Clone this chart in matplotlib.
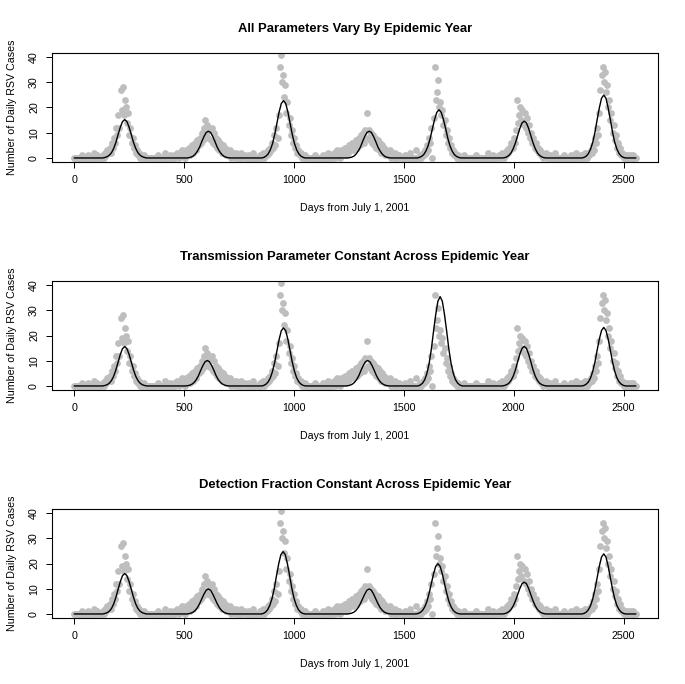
import numpy as np
import matplotlib
matplotlib.use("Agg")
from matplotlib import pyplot as plt

plt.rcParams['font.family'] = ['Liberation Sans', 'DejaVu Sans']

# observed daily counts (same in all three panels), one list per epidemic season,
# read every 5 days starting at obs_start
obs_step = 5
obs_start = [125, 455, 840, 1170, 1570, 1930, 2300]
obs_season = [
    [0, 1, 0, 2, 1, 3, 2, 4, 2, 6, 4, 8, 6, 12, 9, 17, 12, 27, 19, 28,
     17, 23, 20, 14, 18, 9, 12, 6, 8, 4, 5, 2, 3, 1, 2, 0, 1, 0, 1, 0, 0],
    [1, 0, 2, 1, 0, 2, 1, 3, 1, 2, 0, 3, 2, 4, 1, 3, 5, 2, 4, 6,
     3, 7, 5, 8, 6, 10, 7, 12, 15, 9, 13, 8, 11, 7, 12, 6, 10, 5, 8, 4,
     7, 3, 6, 2, 5, 3, 4, 1, 3, 2, 1, 3, 0, 2, 1, 0, 2, 1, 0, 1, 0, 2, 0, 1, 0],
    [0, 1, 0, 1, 2, 0, 2, 1, 3, 2, 4, 3, 6, 4, 9, 5, 12, 8, 17, 36,
     41, 30, 33, 24, 29, 18, 22, 13, 16, 9, 11, 6, 8, 4, 5, 2, 3, 1, 2, 0,
     1, 0, 1, 0, 0],
    [1, 0, 2, 0, 1, 3, 1, 2, 0, 3, 1, 2, 4, 1, 3, 2, 5, 3, 4, 6,
     3, 5, 7, 4, 6, 8, 5, 9, 7, 10, 6, 11, 18, 8, 11, 7, 10, 6, 9, 5,
     8, 4, 7, 3, 6, 2, 5, 3, 4, 1, 3, 2, 1, 3, 0, 2, 1, 0, 2, 0, 1, 0, 1, 0, 0],
    [0, 1, 0, 2, 1, 3, 2, 5, 3, 8, 6, 12, 0, 16, 36, 23, 26, 31, 20, 22,
     17, 19, 13, 15, 9, 11, 6, 8, 4, 5, 2, 3, 1, 2, 0, 1, 0],
    [0, 1, 0, 2, 1, 0, 2, 1, 3, 2, 4, 3, 6, 4, 8, 6, 11, 23, 14, 17,
     20, 15, 19, 13, 18, 12, 16, 10, 13, 8, 10, 6, 8, 4, 6, 3, 4, 2, 3, 1,
     2, 0, 1, 2, 0, 1, 0, 1, 0],
    [0, 1, 0, 1, 0, 2, 1, 0, 2, 1, 3, 2, 5, 3, 8, 6, 12, 9, 18, 27,
     33, 36, 30, 34, 26, 29, 20, 23, 15, 18, 10, 13, 7, 9, 4, 6, 2, 4, 1, 2,
     0, 1, 0, 1, 0, 0, 1],
]
# scattered small counts between seasons (all other days read as 0)
offseason_days = [35, 62, 88, 104, 380, 412, 436, 790, 812, 1095, 1130, 1156,
                  1505, 1530, 1556, 1775, 1830, 1885, 1905, 2190, 2230, 2262, 2285, 2545]
offseason_counts = [1, 1, 2, 1, 1, 2, 1, 1, 2, 1, 1, 2,
                    1, 2, 3, 1, 1, 2, 1, 2, 1, 1, 2, 1]
last_day = 2555

# model fits: values every 10 days from peak-90 to peak+90, zero elsewhere
model_offsets = np.arange(-90, 91, 10)
titles = ["All Parameters Vary By Epidemic Year",
          "Transmission Parameter Constant Across Epidemic Year",
          "Detection Fraction Constant Across Epidemic Year"]
peak_days = [
    [229, 610, 952, 1342, 1660, 2048, 2410],
    [229, 605, 952, 1335, 1665, 2048, 2410],
    [229, 610, 950, 1342, 1655, 2048, 2410],
]
model_vals = [
    [
        [0.2, 0.5, 1.1, 2.1, 3.8, 6.2, 9.3, 12.2, 14.4, 15.2, 14.4, 12.2, 9.3, 6.2, 3.8, 2.1, 1.1, 0.5, 0.2],
        [0.1, 0.3, 0.7, 1.5, 2.7, 4.3, 6.5, 8.5, 10.1, 10.6, 10.1, 8.5, 6.5, 4.3, 2.7, 1.5, 0.7, 0.3, 0.1],
        [0.2, 0.7, 1.6, 3.2, 5.7, 9.3, 13.8, 18.2, 21.6, 22.7, 21.6, 18.2, 13.8, 9.3, 5.7, 3.2, 1.6, 0.7, 0.2],
        [0.1, 0.3, 0.7, 1.5, 2.7, 4.3, 6.5, 8.5, 10.1, 10.6, 10.1, 8.5, 6.5, 4.3, 2.7, 1.5, 0.7, 0.3, 0.1],
        [0.2, 0.6, 1.3, 2.7, 4.8, 7.8, 11.7, 15.3, 18.1, 19.1, 18.1, 15.3, 11.7, 7.8, 4.8, 2.7, 1.3, 0.6, 0.2],
        [0.1, 0.4, 1.0, 2.0, 3.7, 6.0, 8.9, 11.7, 13.9, 14.6, 13.9, 11.7, 8.9, 6.0, 3.7, 2.0, 1.0, 0.4, 0.1],
        [0.2, 0.7, 1.7, 3.5, 6.2, 10.2, 15.2, 19.9, 23.7, 24.9, 23.7, 19.9, 15.2, 10.2, 6.2, 3.5, 1.7, 0.7, 0.2],
    ],
    [
        [0.2, 0.5, 1.1, 2.2, 3.9, 6.4, 9.5, 12.5, 14.8, 15.6, 14.8, 12.5, 9.5, 6.4, 3.9, 2.2, 1.1, 0.5, 0.2],
        [0.1, 0.3, 0.7, 1.4, 2.5, 4.1, 6.2, 8.1, 9.6, 10.1, 9.6, 8.1, 6.2, 4.1, 2.5, 1.4, 0.7, 0.3, 0.1],
        [0.2, 0.7, 1.6, 3.2, 5.8, 9.4, 14.0, 18.4, 21.9, 23.0, 21.9, 18.4, 14.0, 9.4, 5.8, 3.2, 1.6, 0.7, 0.2],
        [0.1, 0.3, 0.7, 1.4, 2.5, 4.1, 6.2, 8.1, 9.6, 10.1, 9.6, 8.1, 6.2, 4.1, 2.5, 1.4, 0.7, 0.3, 0.1],
        [0.4, 1.1, 2.5, 5.0, 8.9, 14.5, 21.6, 28.3, 33.6, 35.4, 33.6, 28.3, 21.6, 14.5, 8.9, 5.0, 2.5, 1.1, 0.4],
        [0.2, 0.5, 1.1, 2.2, 3.9, 6.4, 9.6, 12.6, 14.9, 15.7, 14.9, 12.6, 9.6, 6.4, 3.9, 2.2, 1.1, 0.5, 0.2],
        [0.2, 0.7, 1.6, 3.2, 5.8, 9.5, 14.2, 18.6, 22.0, 23.2, 22.0, 18.6, 14.2, 9.5, 5.8, 3.2, 1.6, 0.7, 0.2],
    ],
    [
        [0.2, 0.5, 1.1, 2.2, 4.0, 6.6, 9.8, 12.8, 15.2, 16.0, 15.2, 12.8, 9.8, 6.6, 4.0, 2.2, 1.1, 0.5, 0.2],
        [0.1, 0.3, 0.7, 1.4, 2.5, 4.1, 6.0, 7.9, 9.4, 9.9, 9.4, 7.9, 6.0, 4.1, 2.5, 1.4, 0.7, 0.3, 0.1],
        [0.2, 0.7, 1.7, 3.5, 6.2, 10.1, 15.1, 19.8, 23.5, 24.7, 23.5, 19.8, 15.1, 10.1, 6.2, 3.5, 1.7, 0.7, 0.2],
        [0.1, 0.3, 0.7, 1.4, 2.5, 4.1, 6.0, 7.9, 9.4, 9.9, 9.4, 7.9, 6.0, 4.1, 2.5, 1.4, 0.7, 0.3, 0.1],
        [0.2, 0.6, 1.4, 2.8, 5.0, 8.2, 12.1, 15.9, 18.9, 19.9, 18.9, 15.9, 12.1, 8.2, 5.0, 2.8, 1.4, 0.6, 0.2],
        [0.1, 0.4, 0.9, 1.8, 3.2, 5.2, 7.7, 10.1, 12.0, 12.6, 12.0, 10.1, 7.7, 5.2, 3.2, 1.8, 0.9, 0.4, 0.1],
        [0.2, 0.7, 1.7, 3.3, 6.0, 9.8, 14.5, 19.0, 22.6, 23.8, 22.6, 19.0, 14.5, 9.8, 6.0, 3.3, 1.7, 0.7, 0.2],
    ],
]

# assemble observed series
obs_x = []
obs_y = []
in_season = np.zeros(last_day + 1, dtype=bool)
for start, vals in zip(obs_start, obs_season):
    d = start + obs_step * np.arange(len(vals))
    obs_x.extend(d)
    obs_y.extend(vals)
    in_season[start:d[-1] + 1] = True
base_days = np.arange(0, last_day + 1, obs_step)
base_days = base_days[~in_season[base_days]]
obs_x = np.concatenate([base_days, obs_x, offseason_days])
obs_y = np.concatenate([np.zeros(len(base_days)), obs_y, offseason_counts])

fig = plt.figure(figsize=(6.85, 6.84), dpi=100)
W, H = 685.0, 684.0
left, right = 52, 658
for i in range(3):
    top = 53 + 228 * i
    bot = 162 + 228 * i
    ax = fig.add_axes([left / W, 1 - bot / H, (right - left) / W, (bot - top) / H])

    ax.scatter(obs_x, obs_y, s=24, color="#BEBEBE", linewidths=0, zorder=2)

    mx = [0]
    my = [0]
    for pk, vals in zip(peak_days[i], model_vals[i]):
        mx += [pk - 100] + list(pk + model_offsets) + [pk + 100]
        my += [0] + vals + [0]
    mx.append(last_day)
    my.append(0)
    ax.plot(mx, my, color="black", lw=1.0, zorder=3)

    ax.set_xlim(-102, 2657)
    ax.set_ylim(-1.6, 41.6)
    ax.set_xticks([0, 500, 1000, 1500, 2000, 2500])
    ax.set_yticks([0, 10, 20, 30, 40])
    ax.tick_params(direction="out", length=4.3, width=0.7, labelsize=7.7, pad=5)
    plt.setp(ax.get_yticklabels(), rotation=90, va="center")
    for sp in ax.spines.values():
        sp.set_linewidth(0.8)
    ax.set_title(titles[i], fontsize=9.4, fontweight="bold", pad=15)
    ax.set_xlabel("Days from July 1, 2001", fontsize=7.7, labelpad=13)
    ax.set_ylabel("Number of Daily RSV Cases", fontsize=7.7, labelpad=9)

fig.savefig("out.png", dpi=100)
